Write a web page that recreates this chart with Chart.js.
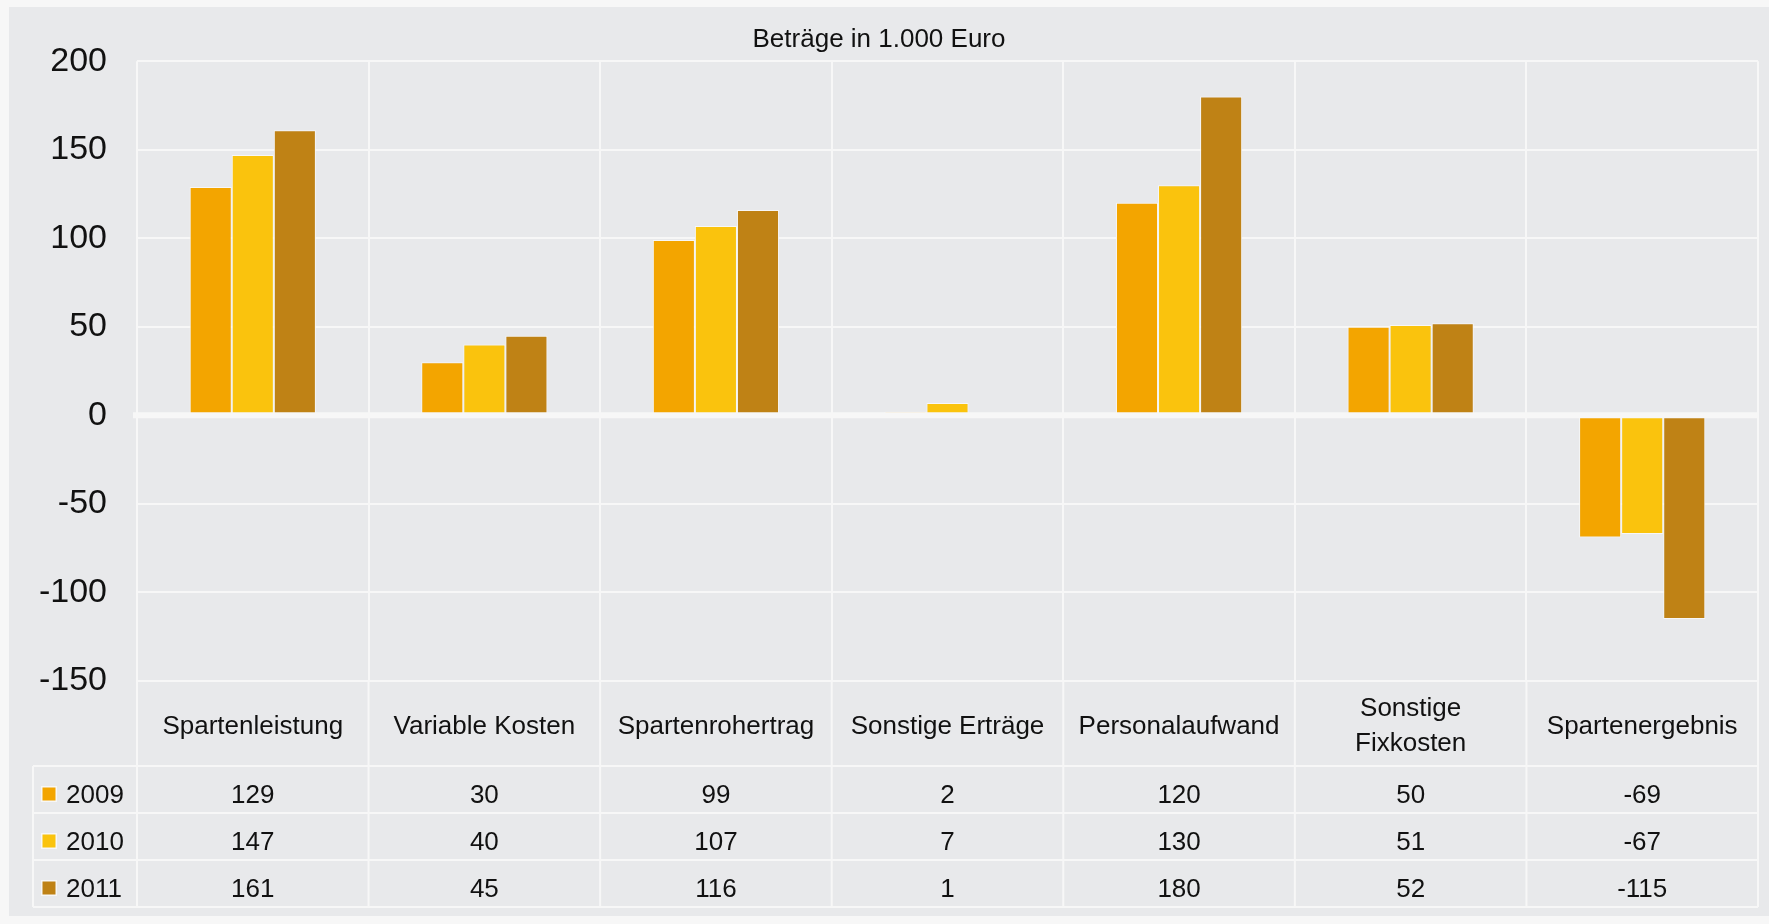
<!DOCTYPE html>
<html>
<head>
<meta charset="utf-8">
<script src="https://cdn.jsdelivr.net/npm/chart.js@4.4.0/dist/chart.umd.min.js"></script>
<style>
body{margin:0;background:#f7f7f7;}
#wrap{width:1769px;height:924px;}
</style>
</head>
<body>
<div id="wrap"><canvas id="myChart" width="1769" height="924"></canvas></div>
<script>
const categories = ['Spartenleistung', 'Variable Kosten', 'Spartenrohertrag', 'Sonstige Erträge', 'Personalaufwand', ['Sonstige', 'Fixkosten'], 'Spartenergebnis'];
const years = ['2009', '2010', '2011'];
const values2009 = [129, 30, 99, 2, 120, 50, -69];
const values2010 = [147, 40, 107, 7, 130, 51, -67];
const values2011 = [161, 45, 116, 1, 180, 52, -115];
const yTicks = [-150, -100, -50, 0, 50, 100, 150, 200];
const colors = ['#f3a500', '#fac30d', '#bf8215'];
const rows = [values2009, values2010, values2011];
const FONT = '"Liberation Sans", Arial, sans-serif';
const LINE = '#f7f7f7';

// grey panel behind everything
const panelBg = {
	id: 'panelBg',
	beforeDraw(chart){
		const c = chart.ctx;
		c.save();
		c.fillStyle = '#e8e9eb';
		c.fillRect(9, 7, chart.width - 9, 909);
		c.restore();
	}
};

// zero line over the bars + data table under the axis
const dataTable = {
	id: 'dataTable',
	afterDatasetsDraw(chart){
		const c = chart.ctx, a = chart.chartArea;
		const y0 = chart.scales.y.getPixelForValue(0);
		c.save();
		c.strokeStyle = LINE;
		c.lineWidth = 6;
		c.beginPath();
		c.moveTo(a.left - 4, y0);
		c.lineTo(a.right, y0);
		c.stroke();
		c.restore();
	},
	afterDraw(chart){
		const c = chart.ctx, a = chart.chartArea, x = chart.scales.x;
		const top = x.bottom;
		const rowH = 47;
		const bottom = top + rowH * rows.length;
		const w = x.width / categories.length;
		c.save();
		c.strokeStyle = LINE;
		c.lineWidth = 2;
		c.beginPath();
		for (let i = 0; i <= rows.length; i++){
			c.moveTo(33, top + i * rowH);
			c.lineTo(a.right, top + i * rowH);
		}
		c.moveTo(33, top);
		c.lineTo(33, bottom);
		for (let i = 0; i <= categories.length; i++){
			const px = x.getPixelForValue(0) - w / 2 + i * w;
			c.moveTo(px, a.bottom);
			c.lineTo(px, bottom);
		}
		c.stroke();

		c.font = '26px ' + FONT;
		c.fillStyle = '#111';
		c.textBaseline = 'middle';
		for (let r = 0; r < rows.length; r++){
			const cy = top + r * rowH + 30;
			// legend square
			c.fillStyle = LINE;
			c.fillRect(41, cy - 10, 16, 16);
			c.fillStyle = colors[r];
			c.fillRect(42.5, cy - 8.5, 13, 13);
			c.fillStyle = '#111';
			c.textAlign = 'left';
			c.fillText(years[r], 66, cy);
			c.textAlign = 'center';
			for (let i = 0; i < categories.length; i++){
				c.fillText(String(rows[r][i]), x.getPixelForValue(i), cy);
			}
		}
		c.restore();
	}
};

const ctx = document.getElementById('myChart').getContext('2d');
const myChart = new Chart(ctx, {
	type: 'bar',
	data: {
		labels: categories,
		datasets: rows.map((d, i) => ({
			label: years[i],
			data: d,
			backgroundColor: colors[i],
			borderColor: LINE,
			borderWidth: 1,
			categoryPercentage: 0.545,
			barPercentage: 1
		}))
	},
	options: {
		responsive: false,
		animation: false,
		layout: { padding: { left: 0, right: 11, top: 0, bottom: 158 } },
		plugins: {
			legend: { display: false },
			tooltip: { enabled: false },
			title: {
				display: true,
				text: 'Beträge in 1.000 Euro',
				color: '#111',
				font: { size: 26, weight: 'normal', family: FONT },
				padding: { top: 24, bottom: 6 }
			}
		},
		scales: {
			x: {
				grid: { color: LINE, lineWidth: 2, drawTicks: false, offset: true },
				border: { display: false },
				ticks: {
					color: '#111',
					font: { size: 26, family: FONT, lineHeight: 35 / 26 },
					padding: 28,
					crossAlign: 'center',
					maxRotation: 0,
					autoSkip: false
				},
				afterFit(s){ s.height = 85; }
			},
			y: {
				min: -150,
				max: 200,
				afterBuildTicks(s){ s.ticks = yTicks.map(v => ({ value: v })); },
				grid: { color: LINE, lineWidth: 2, drawTicks: false },
				border: { display: false },
				ticks: { color: '#111', font: { size: 34, family: FONT }, padding: 30 },
				afterFit(s){ s.width = 137; }
			}
		}
	},
	plugins: [panelBg, dataTable]
});
</script>
</body>
</html>
